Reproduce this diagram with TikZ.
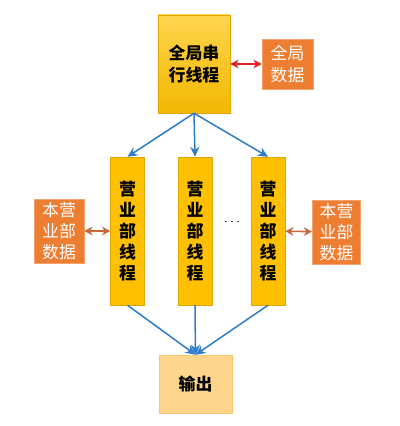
\documentclass[tikz,border=0pt]{standalone}
\usepackage{fontspec}
\newfontfamily\cjk{Noto Sans CJK SC}
\usetikzlibrary{arrows.meta}

\definecolor{threadgold}{HTML}{FFC000}
\definecolor{threadedge}{HTML}{E3A600}
\definecolor{goldtop}{HTML}{FFD54F}
\definecolor{goldbot}{HTML}{F2B700}
\definecolor{dataorange}{HTML}{ED7D31}
\definecolor{dataedge}{HTML}{F4A26E}
\definecolor{outfill}{HTML}{FDD68C}
\definecolor{outedge}{HTML}{F7C56A}
\definecolor{flowblue}{HTML}{2F7CC8}
\definecolor{syncred}{HTML}{E8202A}
\definecolor{syncbrown}{HTML}{C8693A}

\tikzset{
  mainbox/.style={draw=threadedge, top color=goldtop, bottom color=goldbot, minimum width=2.16cm, minimum height=2.94cm, font=\cjk\bfseries\Large, align=center, inner sep=1pt},
  threadbox/.style={draw=threadedge, fill=threadgold, minimum width=1.02cm, minimum height=4.44cm, font=\cjk\bfseries\Large, align=center, inner sep=1pt},
  databox/.style={draw=dataedge, fill=dataorange, text=white, minimum width=1.5cm, minimum height=1.92cm, font=\cjk\Large, align=center, inner sep=1pt},
  outbox/.style={draw=outedge, fill=outfill, minimum width=2.19cm, minimum height=1.74cm, font=\cjk\bfseries\Large},
  flow/.style={->, >={Stealth[length=3mm, width=2.8mm]}, line width=1.3pt, flowblue},
  sync/.style={<->, >={Stealth[length=2.5mm, width=2.6mm]}, line width=1.3pt}
}

\begin{document}
\begin{tikzpicture}[x=0.03cm, y=-0.03cm]
        \useasboundingbox (0,0) rectangle (400,426);

        % Serial thread and global data
        \node[mainbox] (serial) at (194,64) {全局串\\行线程};
        \node[databox, minimum width=1.53cm, minimum height=1.5cm] (globaldata) at (287.5,64) {全局\\数据};
        \draw[sync, syncred] (serial) -- (globaldata);

        % Branch threads
        \node[threadbox] (threadA) at (127.5,231) {营\\业\\部\\线\\程};
        \node[threadbox] (threadB) at (195,231) {营\\业\\部\\线\\程};
        \node[threadbox] (threadC) at (268,231) {营\\业\\部\\线\\程};
        \node[font=\bfseries\large] (dots) at (232,222) {$\cdots$};

        % Branch data
        \node[databox] (dataA) at (59,231) {本营\\业部\\数据};
        \node[databox, minimum width=1.45cm] (dataC) at (336.5,232) {本营\\业部\\数据};
        \draw[sync, syncbrown] (dataA) -- (threadA);
        \draw[sync, syncbrown] (threadC) -- (dataC);

        % Output
        \node[outbox] (output) at (195.5,384) {输出};

        \foreach \t in {threadA, threadB, threadC} {
          \draw[flow] (serial.south) -- (\t.north);
          \draw[flow] (\t.south) -- (output.north);
        }
\end{tikzpicture}
\end{document}
